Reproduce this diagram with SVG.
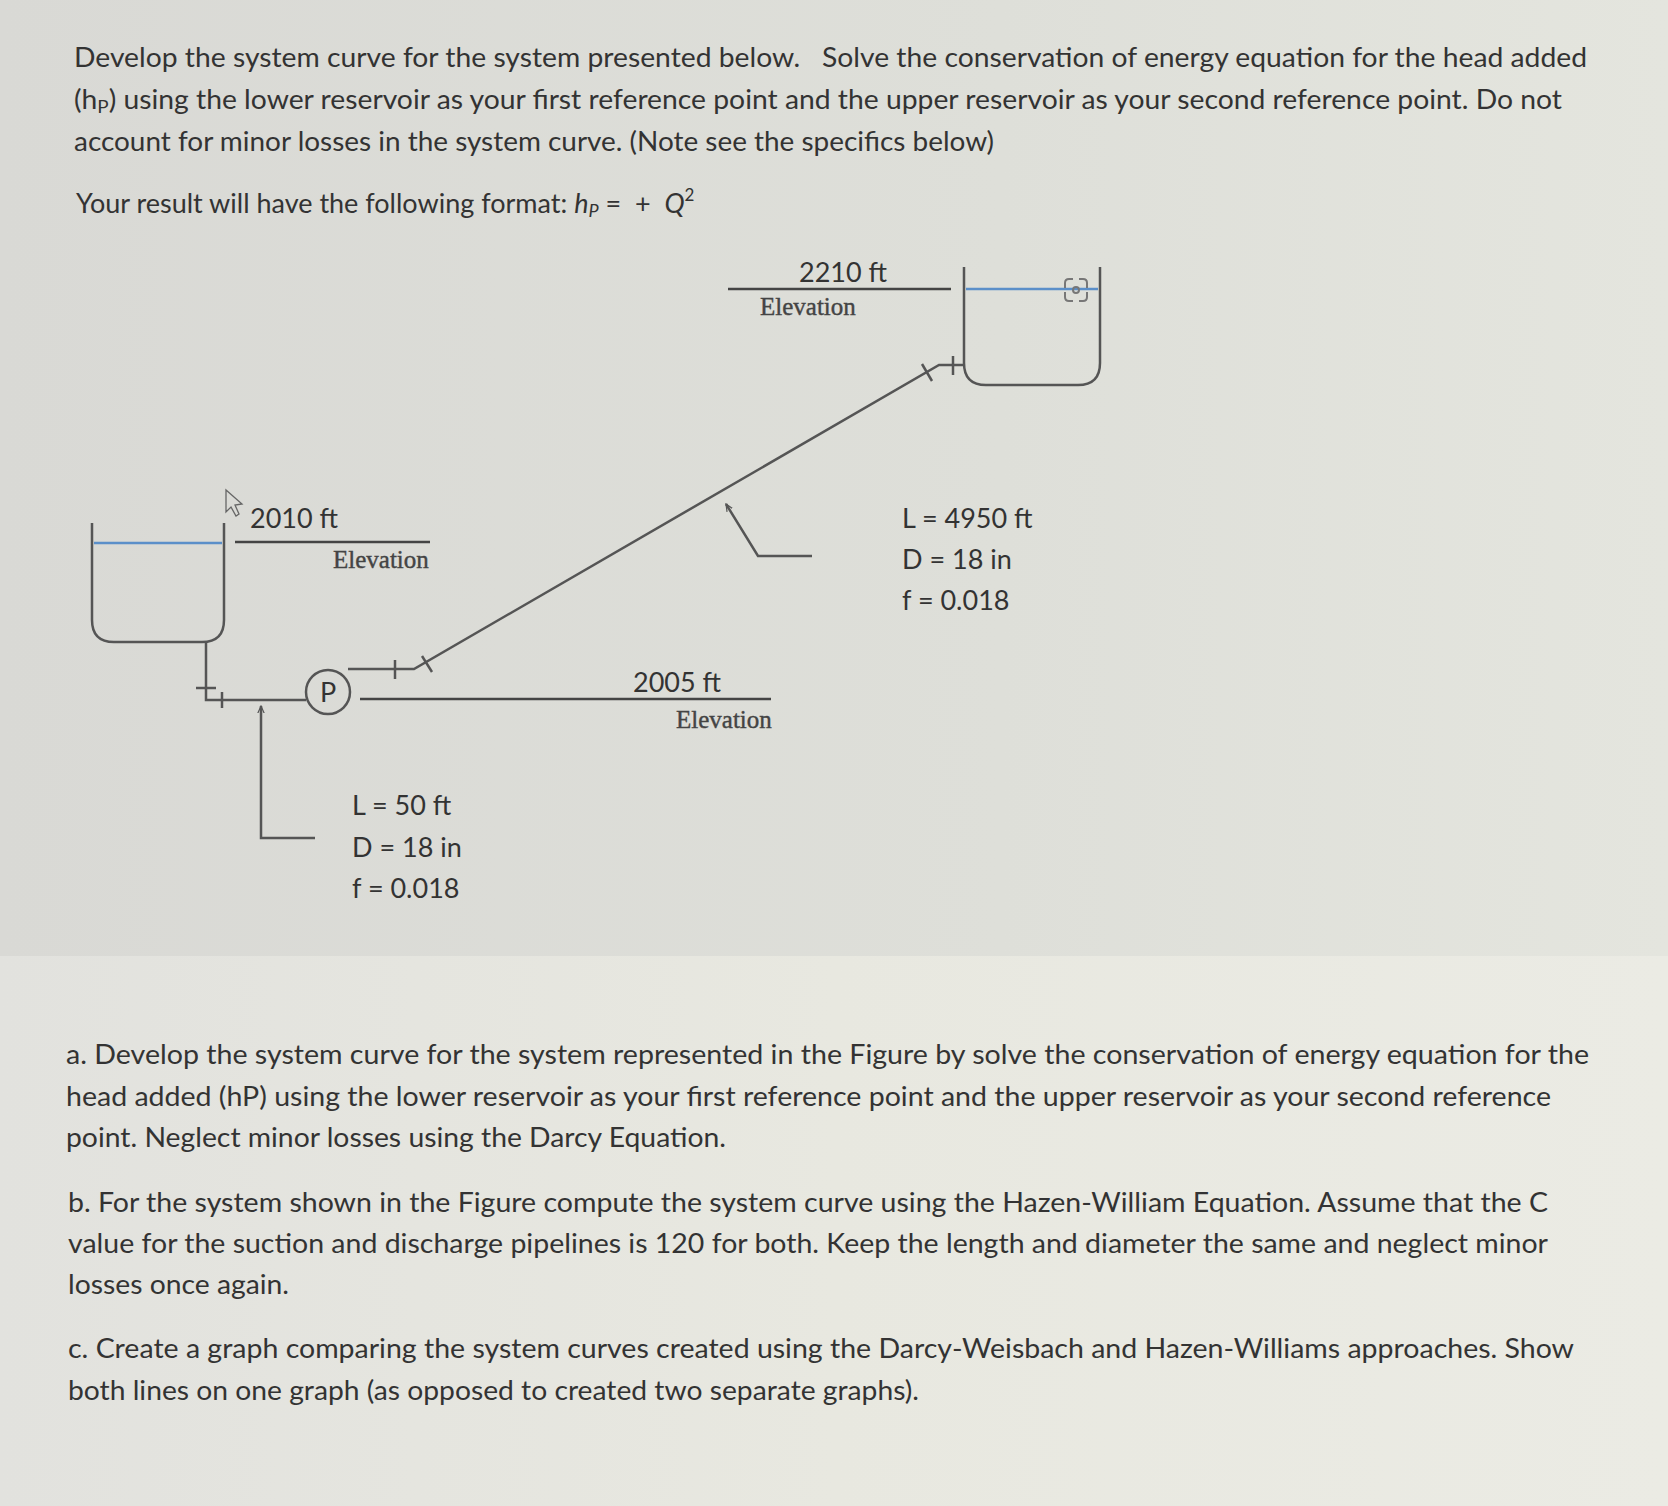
<svg xmlns="http://www.w3.org/2000/svg" width="1668" height="1506" viewBox="0 0 1668 1506">
<defs>
<linearGradient id="bgTop" x1="0" y1="0" x2="1" y2="0">
<stop offset="0" stop-color="#d9d9d5"/><stop offset="0.6" stop-color="#dedfd9"/><stop offset="1" stop-color="#e4e5de"/>
</linearGradient>
<linearGradient id="bgBot" x1="0" y1="0" x2="1" y2="0">
<stop offset="0" stop-color="#e2e2de"/><stop offset="0.5" stop-color="#e8e8e0"/><stop offset="1" stop-color="#ebebe4"/>
</linearGradient>
<marker id="ah" viewBox="0 0 10 10" refX="9" refY="5" markerWidth="8" markerHeight="8" orient="auto-start-reverse" markerUnits="userSpaceOnUse">
<path d="M0,1 L9,5 L0,9" fill="none" stroke="#555" stroke-width="1.5"/>
</marker>
<style>
.t{font-family:Lato,"Open Sans",sans-serif;font-size:27px;fill:#333}
.d{font-family:Lato,"Open Sans",sans-serif;font-size:27px;fill:#333}
.e{font-family:"Liberation Serif","DejaVu Serif",serif;font-size:25px;fill:#444;stroke:#444;stroke-width:0.4}
.p{fill:none;stroke:#555;stroke-width:2.5}
.w{stroke:#5b8fc9;stroke-width:2.5}
</style>
</defs>
<rect x="0" y="0" width="1668" height="956" fill="url(#bgTop)"/>
<rect x="0" y="956" width="1668" height="550" fill="url(#bgBot)"/>

<g id="intro">
<text class="t" x="74" y="67" textLength="1513" lengthAdjust="spacingAndGlyphs" xml:space="preserve">Develop the system curve for the system presented below.   Solve the conservation of energy equation for the head added</text>
<text class="t" x="74" y="109" textLength="1488" lengthAdjust="spacingAndGlyphs">(h<tspan font-size="18" dy="4">P</tspan><tspan dy="-4">) using the lower reservoir as your first reference point and the upper reservoir as your second reference point. Do not</tspan></text>
<text class="t" x="74" y="151" textLength="920" lengthAdjust="spacingAndGlyphs">account for minor losses in the system curve. (Note see the specifics below)</text>
<text class="t" x="76" y="213">Your result will have the following format: <tspan font-style="italic">h</tspan><tspan font-style="italic" font-size="18" dy="4">P</tspan><tspan dy="-4" xml:space="preserve"> =  +  </tspan><tspan font-style="italic">Q</tspan><tspan font-size="17" dy="-12">2</tspan></text>
</g>

<g id="connectors">
<polyline class="p" points="206,642 206,700 306,700"/>
<line class="p" x1="196" y1="688" x2="216" y2="688"/>
<line class="p" x1="222" y1="692" x2="222" y2="708"/>
<polyline class="p" points="348,669 414,669 939,365 964,365"/>
<line class="p" x1="395" y1="660" x2="395" y2="679"/>
<line class="p" x1="422" y1="656" x2="432" y2="672"/>
<line class="p" x1="922" y1="364" x2="932" y2="381"/>
<line class="p" x1="953" y1="356" x2="953" y2="375"/>
<polyline class="p" points="315,838 261,838 261,706" marker-end="url(#ah)" stroke-width="2"/>
<polyline class="p" points="812,556 758,556 726,504" marker-end="url(#ah)" stroke-width="2"/>
</g>

<g id="lower-reservoir">
<path class="p" d="M92,523 V620 Q92,642 114,642 H202 Q224,642 224,620 V523"/>
<line class="w" x1="94" y1="543" x2="222" y2="543"/>
<path d="M226,490 L226,512 L231,507 L236,516 L239,514 L235,505 L242,504 Z" fill="none" stroke="#666" stroke-width="1.3"/>
<line x1="235" y1="542" x2="430" y2="542" stroke="#444" stroke-width="2.5"/>
<text class="d" x="250" y="528">2010 ft</text>
<text class="e" x="333" y="568">Elevation</text>
</g>

<g id="pump">
<circle cx="328" cy="692" r="22" fill="none" stroke="#555" stroke-width="2.5"/>
<text class="d" x="328" y="702" text-anchor="middle" font-size="26">P</text>
</g>

<g id="datum">
<line x1="360" y1="699" x2="771" y2="699" stroke="#444" stroke-width="2.5"/>
<text class="d" x="633" y="692">2005 ft</text>
<text class="e" x="676" y="728">Elevation</text>
</g>

<g id="upper-reservoir">
<path class="p" d="M964,267 V363 Q964,385 986,385 H1078 Q1100,385 1100,363 V267"/>
<line class="w" x1="966" y1="289" x2="1098" y2="289"/>
<line x1="728" y1="289" x2="951" y2="289" stroke="#444" stroke-width="2.5"/>
<text class="d" x="799" y="282">2210 ft</text>
<text class="e" x="760" y="315">Elevation</text>
<g fill="none" stroke="#777" stroke-width="2">
<path d="M1065,288 V283 Q1065,279 1069,279 H1073"/>
<path d="M1079,279 H1083 Q1087,279 1087,283 V288"/>
<path d="M1065,292 V297 Q1065,301 1069,301 H1073"/>
<path d="M1079,301 H1083 Q1087,301 1087,297 V292"/>
<circle cx="1076" cy="290" r="3"/>
</g>
</g>

<g id="suction-specs">
<text class="d" x="352" y="815">L = 50 ft</text>
<text class="d" x="352" y="857">D = 18 in</text>
<text class="d" x="352" y="898">f = 0.018</text>
</g>
<g id="discharge-specs">
<text class="d" x="902" y="528">L = 4950 ft</text>
<text class="d" x="902" y="569">D = 18 in</text>
<text class="d" x="902" y="610">f = 0.018</text>
</g>

<g id="questions">
<text class="t" x="66" y="1064" textLength="1523" lengthAdjust="spacingAndGlyphs">a. Develop the system curve for the system represented in the Figure by solve the conservation of energy equation for the</text>
<text class="t" x="66" y="1106" textLength="1485" lengthAdjust="spacingAndGlyphs">head added (hP) using the lower reservoir as your first reference point and the upper reservoir as your second reference</text>
<text class="t" x="66" y="1147" textLength="660" lengthAdjust="spacingAndGlyphs">point. Neglect minor losses using the Darcy Equation.</text>
<text class="t" x="68" y="1212" textLength="1480" lengthAdjust="spacingAndGlyphs">b. For the system shown in the Figure compute the system curve using the Hazen-William Equation. Assume that the C</text>
<text class="t" x="68" y="1253" textLength="1480" lengthAdjust="spacingAndGlyphs">value for the suction and discharge pipelines is 120 for both. Keep the length and diameter the same and neglect minor</text>
<text class="t" x="68" y="1294" textLength="221" lengthAdjust="spacingAndGlyphs">losses once again.</text>
<text class="t" x="68" y="1358" textLength="1506" lengthAdjust="spacingAndGlyphs">c. Create a graph comparing the system curves created using the Darcy-Weisbach and Hazen-Williams approaches. Show</text>
<text class="t" x="68" y="1400" textLength="851" lengthAdjust="spacingAndGlyphs">both lines on one graph (as opposed to created two separate graphs).</text>
</g>
</svg>
